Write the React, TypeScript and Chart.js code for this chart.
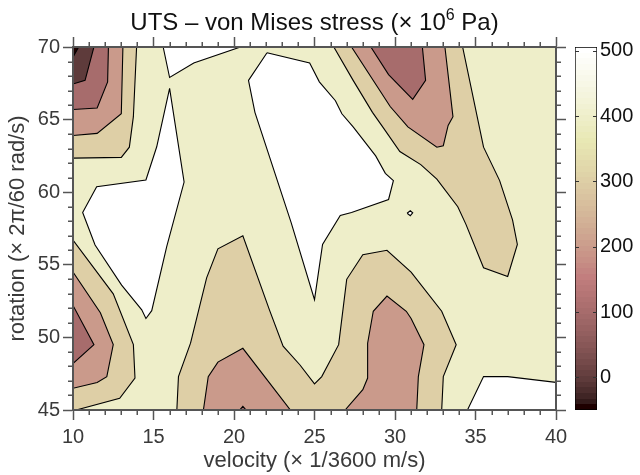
import React, { useEffect, useRef } from 'react';
import { Chart, registerables } from 'chart.js';

Chart.register(...registerables);

const FONT = '"Liberation Sans", Arial, Helvetica, sans-serif';

// Axis ticks
const velocityTicks = [10, 15, 20, 25, 30, 35, 40];
const rotationTicks = [45, 50, 55, 60, 65, 70];
const stressTicks = [0, 100, 200, 300, 400, 500];
const stressMin = -50;
const stressMax = 506;

// Contour regions: [velocity, rotation] vertices
const bgRegion = [[10, 45], [40, 45], [40, 70], [10, 70]];
const whiteTop = [[15.6, 70], [16.0, 67.9], [17.5, 68.9], [20.4, 70]];
const whiteLeft = [[16.0, 67.15], [16.9, 60.7], [15.82, 56.25], [14.89, 51.84], [14.53, 51.3], [14.27, 51.9], [13.02, 53.6], [11.37, 56.36], [10.6, 58.6], [11.47, 60.38], [14.53, 60.84], [15.2, 63.13]];
const whiteCenter = [[22.05, 69.6], [24.7, 68.9], [25.3, 67.6], [26.3, 66.3], [26.7, 65.4], [27.4, 64.5], [28.1, 63.5], [28.8, 62.5], [29.4, 61.3], [29.9, 60.8], [29.6, 59.5], [27.3, 58.6], [26.6, 58.4], [25.5, 56.4], [25.0, 52.6], [23.55, 57.9], [21.3, 65.5], [20.9, 67.7]];
const whiteBR = [[34.5, 45], [35.5, 47.3], [37.0, 47.3], [40, 46.9], [40, 45]];
const whiteIsland = [[30.75, 58.55], [30.95, 58.72], [31.1, 58.58], [30.95, 58.38]];

const tanTL = [[10, 70], [13.95, 70], [13.75, 65.2], [13.5, 63.1], [13.0, 62.4], [10, 62.35]];
const tanTR = [[26.2, 70], [27.4, 67.7], [28.6, 65.5], [29.3, 64.4], [30.3, 62.8], [31.6, 61.9], [32.6, 60.9], [33.9, 59.0], [34.4, 57.8], [35.5, 54.8], [37.0, 54.2], [37.6, 56.4], [37.3, 58.1], [36.5, 60.8], [35.5, 63.1], [34.2, 70]];
const tanBL = [[10, 56.7], [12.5, 53.0], [13.75, 49.5], [13.85, 47.2], [12.9, 45.8], [10.2, 45], [10, 45]];
const tanBC = [[16.45, 45], [16.55, 47.3], [17.3, 49.6], [18.3, 54.1], [19.0, 56.1], [20.55, 57.0], [22.2, 51.9], [23.05, 49.4], [24.1, 48.1], [25.0, 46.8], [25.45, 47.3], [26.5, 49.5], [27.0, 54.0], [28.0, 55.7], [29.5, 56.0], [31.0, 54.5], [32.9, 51.8], [33.8, 49.5], [33.0, 47.3], [32.9, 45]];

const pinkTL = [[10, 70], [13.1, 70], [13.0, 65.4], [11.5, 64.05], [10, 63.9]];
const pinkTR = [[27.3, 70], [29.7, 65.9], [30.8, 64.5], [32.6, 63.1], [33.0, 63.2], [33.3, 64.6], [33.6, 65.2], [33.1, 70]];
const pinkBL = [[10, 54.5], [11.7, 51.7], [12.5, 49.5], [12.1, 47.3], [11.5, 46.9], [10, 46.5]];
const pinkB1 = [[18.1, 45], [18.4, 47.3], [19.0, 48.3], [20.55, 49.25], [23.5, 45]];
const pinkB2 = [[26.9, 45], [28.0, 46.4], [28.3, 47.2], [28.3, 49.6], [28.65, 51.8], [29.5, 52.85], [30.7, 51.8], [31.0, 51.3], [31.8, 49.5], [31.45, 47.3], [31.35, 45]];

const roseTL = [[10, 70], [12.2, 70], [12.15, 67.6], [11.5, 65.8], [10, 65.7]];
const roseTR = [[28.5, 70], [29.6, 68.1], [31.1, 66.4], [31.9, 67.7], [31.7, 70]];
const roseBL = [[10, 52.2], [11.3, 49.5], [10, 48.2]];
const roseB = [[20.35, 45], [20.55, 45.25], [20.75, 45]];

const darkTL = [[10, 70], [11.3, 70], [10.75, 67.7], [10, 67.45]];
const blackTL = [[10, 70], [10.35, 70], [10, 69.3]];

// drawing order (bottom to top) with the stress level of each band
const regionLevels: [number[][], number][] = [
  [bgRegion, 400],
  [whiteTop, stressMax], [whiteLeft, stressMax], [whiteCenter, stressMax], [whiteBR, stressMax], [whiteIsland, stressMax],
  [tanTL, 300], [tanTR, 300], [tanBL, 300], [tanBC, 300],
  [pinkTL, 200], [pinkTR, 200], [pinkBL, 200], [pinkB1, 200], [pinkB2, 200],
  [roseTL, 100], [roseTR, 100], [roseBL, 100], [roseB, 100],
  [darkTL, 0],
  [blackTL, stressMin],
];

const titleMain = 'UTS \u2013 von Mises stress (\u00d7 10';
const titleSup = '6';
const titleEnd = ' Pa)';
const xTitle = 'velocity (\u00d7 1/3600 m/s)';
const yTitle = 'rotation (\u00d7 2\u03c0/60 rad/s)';

// MATLAB-like "pink" colormap with 64 entries
function pinkRGB(k: number): string {
  const m = 64, n = 24;
  const gray = k / (m - 1);
  const hr = k < n ? (k + 1) / n : 1;
  const hg = k < n ? 0 : k < 2 * n ? (k + 1 - n) / n : 1;
  const hb = k < 2 * n ? 0 : (k + 1 - 2 * n) / (m - 2 * n);
  const c = (h: number) => Math.round(255 * Math.sqrt((2 * gray + h) / 3));
  return `rgb(${c(hr)},${c(hg)},${c(hb)})`;
}
function colorFor(v: number): string {
  const t = (v - stressMin) / (stressMax - stressMin);
  const k = Math.min(63, Math.max(0, Math.floor(t * 64)));
  return pinkRGB(k);
}

const minorTicksPlugin = {
  id: 'minorTicks',
  afterDraw(chart: any) {
    const { ctx, chartArea } = chart;
    const { left, right, top, bottom } = chartArea;
    const xs = chart.scales.x;
    const ys = chart.scales.y;
    ctx.save();
    ctx.strokeStyle = '#555';
    ctx.lineWidth = 1.5;
    ctx.beginPath();
    for (let v = xs.min; v <= xs.max; v += 1) {
      if (v % 5 === 0) continue;
      const px = Math.round(xs.getPixelForValue(v)) + 0.25;
      ctx.moveTo(px, bottom); ctx.lineTo(px, bottom + 5);
      ctx.moveTo(px, top); ctx.lineTo(px, top - 5);
    }
    for (let v = ys.min; v <= ys.max; v += 1) {
      if (v % 5 === 0) continue;
      const py = Math.round(ys.getPixelForValue(v)) + 0.25;
      ctx.moveTo(left, py); ctx.lineTo(left - 5, py);
      ctx.moveTo(right, py); ctx.lineTo(right + 5, py);
    }
    ctx.stroke();
    ctx.restore();
  },
};

const titlePlugin = {
  id: 'supTitle',
  afterDraw(chart: any) {
    const { ctx, chartArea } = chart;
    const cx = (chartArea.left + chartArea.right) / 2;
    const baseY = 30;
    const big = `24px ${FONT}`;
    const small = `16px ${FONT}`;
    ctx.save();
    ctx.fillStyle = '#111';
    ctx.textBaseline = 'alphabetic';
    ctx.textAlign = 'left';
    ctx.font = big;
    const w1 = ctx.measureText(titleMain).width;
    const w3 = ctx.measureText(titleEnd).width;
    ctx.font = small;
    const w2 = ctx.measureText(titleSup).width;
    let x = cx - (w1 + w2 + w3) / 2;
    ctx.font = big;
    ctx.fillText(titleMain, x, baseY);
    x += w1;
    ctx.font = small;
    ctx.fillText(titleSup, x, baseY - 10);
    x += w2;
    ctx.font = big;
    ctx.fillText(titleEnd, x, baseY);
    ctx.restore();
  },
};

const cbTicksPlugin = {
  id: 'cbTicks',
  afterDatasetsDraw(chart: any) {
    const { ctx, chartArea } = chart;
    const ys = chart.scales.y;
    ctx.save();
    ctx.strokeStyle = '#333';
    ctx.lineWidth = 1;
    ctx.beginPath();
    for (const v of stressTicks) {
      const py = Math.round(ys.getPixelForValue(v)) + 0.5;
      ctx.moveTo(chartArea.left, py); ctx.lineTo(chartArea.left + 4, py);
      ctx.moveTo(chartArea.right, py); ctx.lineTo(chartArea.right - 4, py);
    }
    ctx.stroke();
    ctx.restore();
  },
};

function axisCommon(min: number, max: number, ticksArr: number[]) {
  return {
    type: 'linear' as const,
    min,
    max,
    afterBuildTicks: (s: any) => { s.ticks = ticksArr.map((v) => ({ value: v })); },
    grid: { drawOnChartArea: false, drawTicks: true, tickLength: 10, tickColor: '#555', tickWidth: 1.5 },
    border: { display: true, color: '#555', width: 2, z: 1 },
  };
}

export default function App() {
  const mainRef = useRef<HTMLCanvasElement>(null);
  const cbRef = useRef<HTMLCanvasElement>(null);

  useEffect(() => {
    document.body.style.margin = '0';
    Chart.defaults.font.family = FONT;

    const datasets = regionLevels.map(([pts, lvl], i) => ({
      type: 'line' as const,
      data: [...pts, pts[0]].map(([x, y]) => ({ x, y })),
      fill: 'shape' as const,
      backgroundColor: colorFor(lvl),
      borderColor: '#000',
      borderWidth: i === 0 ? 0 : 1.1,
      pointRadius: 0,
      tension: 0,
      order: regionLevels.length - i,
    }));

    const main = new Chart(mainRef.current!, {
      type: 'line',
      data: { datasets },
      options: {
        responsive: false,
        animation: false,
        events: [],
        layout: { padding: 0 },
        plugins: { legend: { display: false }, tooltip: { enabled: false }, title: { display: false } },
        scales: {
          x: {
            ...axisCommon(10, 40, velocityTicks),
            position: 'bottom',
            ticks: { font: { size: 20 }, color: '#3a3a3a', padding: 5, maxRotation: 0 },
            title: { display: true, text: xTitle, font: { size: 22 }, color: '#3a3a3a', padding: { top: 0, bottom: 1 } },
            afterFit: (s: any) => { s.height = 65; },
          },
          x2: {
            ...axisCommon(10, 40, velocityTicks),
            position: 'top',
            ticks: { display: false },
            afterFit: (s: any) => { s.height = 47; },
          },
          y: {
            ...axisCommon(45, 70, rotationTicks),
            position: 'left',
            ticks: { font: { size: 20 }, color: '#3a3a3a', padding: 3 },
            title: { display: true, text: yTitle, font: { size: 22 }, color: '#3a3a3a', padding: { top: 5, bottom: 0 } },
            afterFit: (s: any) => { s.width = 73; },
          },
          y2: {
            ...axisCommon(45, 70, rotationTicks),
            position: 'right',
            ticks: { display: false },
            afterFit: (s: any) => { s.width = 84; },
          },
        },
      } as any,
      plugins: [minorTicksPlugin, titlePlugin],
    });

    const cb = new Chart(cbRef.current!, {
      type: 'bar',
      data: {
        labels: [''],
        datasets: [{
          data: [[stressMin, stressMax]] as any,
          backgroundColor: (c: any) => {
            const chart = c.chart;
            if (!chart.chartArea) return colorFor(250);
            const ys = chart.scales.y;
            const y0 = ys.getPixelForValue(stressMin);
            const y1 = ys.getPixelForValue(stressMax);
            const g = chart.ctx.createLinearGradient(0, y0, 0, y1);
            for (let k = 0; k < 64; k++) {
              const col = pinkRGB(k);
              g.addColorStop(k / 64, col);
              g.addColorStop((k + 1) / 64, col);
            }
            return g;
          },
          borderColor: '#000',
          borderWidth: 1,
          borderSkipped: false,
          barPercentage: 1,
          categoryPercentage: 1,
        }],
      },
      options: {
        responsive: false,
        animation: false,
        events: [],
        layout: { padding: { left: 7, top: 47, bottom: 65, right: 0 } },
        plugins: { legend: { display: false }, tooltip: { enabled: false } },
        scales: {
          x: { display: false },
          y: {
            type: 'linear',
            position: 'right',
            min: stressMin,
            max: stressMax,
            afterBuildTicks: (s: any) => { s.ticks = stressTicks.map((v) => ({ value: v })); },
            ticks: { font: { size: 20 }, color: '#111', padding: 3 },
            grid: { display: false, drawTicks: false },
            border: { display: false },
            afterFit: (s: any) => { s.width = 43; },
          },
        },
      } as any,
      plugins: [cbTicksPlugin],
    });

    return () => { main.destroy(); cb.destroy(); };
  }, []);

  return (
    <div style={{ position: 'absolute', left: 0, top: 0, width: 640, height: 475 }}>
      <canvas ref={mainRef} width={640} height={475} style={{ position: 'absolute', left: 0, top: 0, display: 'block' }} />
      <canvas ref={cbRef} width={72} height={475} style={{ position: 'absolute', left: 568, top: 0, display: 'block' }} />
    </div>
  );
}
